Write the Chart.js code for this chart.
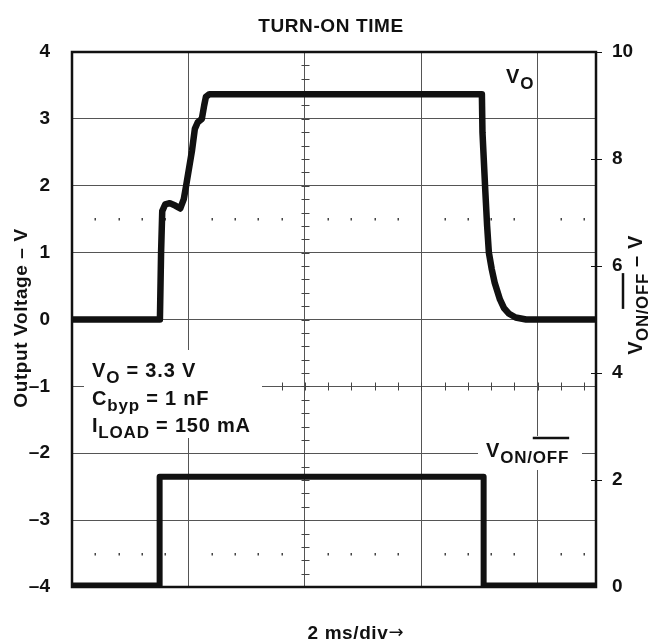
<!DOCTYPE html>
<html><head><meta charset="utf-8">
<script src="https://cdn.jsdelivr.net/npm/chart.js@4.4.0/dist/chart.umd.min.js"></script>
<style>html,body{margin:0;padding:0;background:#fff;overflow:hidden}</style>
</head><body>
<canvas id="c" width="657" height="641"></canvas>
<script>
// ---------- data ----------
const chartTitle = 'TURN-ON TIME';
const leftAxisTitle = 'Output Voltage – V';
const xAxisText = '2 ms/div';
// time in ms (2 ms/div, 4.5 divisions shown)
const voTime  = [0, 1.51, 1.53, 1.55, 1.60, 1.68, 1.78, 1.86, 1.92, 1.96, 2.06, 2.11, 2.16, 2.23, 2.27, 2.30, 2.36, 3.5, 4.5, 5.5, 6.5, 7.04, 7.05, 7.10, 7.13, 7.16, 7.21, 7.26, 7.35, 7.42, 7.50, 7.62, 7.80, 9.0];
const voValue = [0.0, 0.0, 1.0, 1.62, 1.72, 1.74, 1.70, 1.66, 1.80, 2.0, 2.52, 2.85, 2.95, 3.0, 3.2, 3.33, 3.37, 3.37, 3.37, 3.37, 3.37, 3.37, 2.8, 1.9, 1.4, 1.0, 0.75, 0.55, 0.3, 0.17, 0.09, 0.03, 0.0, 0.0];
const enTime  = [0, 1.505, 1.505, 7.07, 7.07, 9.0];
const enValue = [0.03, 0.03, 2.06, 2.06, 0.03, 0.03];
const leftTickStep = 1;
const rightTickStep = 2;
const dottedRows = [1.5, -3.5];

const FONT = '"Liberation Sans", Arial, Helvetica, sans-serif';
const INK = '#111';
const MAIN = 20, SUB = 17;

function drawRich(ctx, parts, x, y, align) {
  let total = 0;
  for (const p of parts) { ctx.font = 'bold ' + p.size + 'px ' + FONT; p.w = ctx.measureText(p.t).width; total += p.w; }
  let cx = align === 'center' ? x - total / 2 : x;
  ctx.textAlign = 'left'; ctx.textBaseline = 'alphabetic';
  for (const p of parts) {
    ctx.font = 'bold ' + p.size + 'px ' + FONT;
    ctx.fillText(p.t, cx, y + (p.dy || 0));
    if (p.over) {
      ctx.save(); ctx.lineWidth = 2.5; ctx.strokeStyle = INK;
      ctx.beginPath(); ctx.moveTo(cx, y + p.over); ctx.lineTo(cx + p.w, y + p.over); ctx.stroke(); ctx.restore();
    }
    cx += p.w;
  }
}

const deco = {
  id: 'deco',
  beforeDatasetsDraw(chart) {
    const { ctx, chartArea: a, scales: { x, y } } = chart;
    ctx.save();
    ctx.fillStyle = '#444';
    for (const v of dottedRows) {
      const py = Math.round(y.getPixelForValue(v));
      for (let k = 1; k < 23; k++) {
        if (k % 5 === 0) continue;
        const px = Math.round(x.getPixelForValue(k * 0.4));
        ctx.fillRect(px - 0.5, py - 1, 1.5, 2.5);
      }
    }
    ctx.strokeStyle = '#444'; ctx.lineWidth = 1;
    const cxp = Math.round(x.getPixelForValue(4)) + 0.5;
    ctx.beginPath();
    for (let k = -20; k <= 20; k++) {
      const py = Math.round(y.getPixelForValue(k * 0.2)) + 0.5;
      ctx.moveTo(cxp - 4, py); ctx.lineTo(cxp + 4, py);
    }
    const cyp = Math.round(y.getPixelForValue(-1)) + 0.5;
    for (let k = 1; k < 23; k++) {
      const px = Math.round(x.getPixelForValue(k * 0.4)) + 0.5;
      ctx.moveTo(px, cyp - 4); ctx.lineTo(px, cyp + 4);
    }
    ctx.stroke();
    ctx.fillStyle = '#fff';
    ctx.fillRect(84, 350, 178, 88);
    ctx.fillRect(478, 436, 104, 34);
    ctx.fillStyle = INK;
    ctx.letterSpacing = '0.8px';
    drawRich(ctx, [{t:'V', size:MAIN}, {t:'O', size:SUB, dy:6}], 506, 83);
    drawRich(ctx, [{t:'V', size:MAIN}, {t:'O', size:SUB, dy:6}, {t:' = 3.3 V', size:MAIN}], 92, 377);
    drawRich(ctx, [{t:'C', size:MAIN}, {t:'byp', size:SUB, dy:6}, {t:' = 1 nF', size:MAIN}], 92, 405);
    drawRich(ctx, [{t:'I', size:MAIN}, {t:'LOAD', size:SUB, dy:6}, {t:' = 150 mA', size:MAIN}], 92, 432);
    drawRich(ctx, [{t:'V', size:MAIN}, {t:'ON/', size:SUB, dy:6}, {t:'OFF', size:SUB, dy:6, over:-19}], 486, 457);
    ctx.restore();
  },
  afterDatasetsDraw(chart) {
    const { ctx, chartArea: a, scales: { y2 } } = chart;
    ctx.save();
    ctx.strokeStyle = INK; ctx.lineWidth = 2.5;
    ctx.strokeRect(a.left, a.top, a.right - a.left, a.bottom - a.top);
    ctx.lineWidth = 1;
    ctx.beginPath();
    for (let v = 2; v <= 10; v += 2) {
      const py = Math.round(y2.getPixelForValue(v)) + 0.5;
      ctx.moveTo(a.right - 5, py); ctx.lineTo(a.right + 6, py);
    }
    ctx.stroke();
    ctx.restore();
  },
  afterDraw(chart) {
    const { ctx } = chart;
    ctx.save();
    ctx.fillStyle = INK;
    ctx.letterSpacing = '0.6px';
    ctx.textAlign = 'center'; ctx.textBaseline = 'alphabetic';
    ctx.font = 'bold 19px ' + FONT;
    ctx.fillText(chartTitle, 331, 32);
    ctx.textAlign = 'left';
    ctx.font = 'bold 19px ' + FONT;
    const w = ctx.measureText(xAxisText).width;
    const xs = 358 - (w + 20) / 2;
    ctx.fillText(xAxisText, xs, 639);
    ctx.font = '18px "DejaVu Sans", sans-serif';
    ctx.fillText('→', xs + w, 638);
    ctx.save();
    ctx.translate(27, 318); ctx.rotate(-Math.PI / 2);
    ctx.textAlign = 'center'; ctx.font = 'bold 19px ' + FONT;
    ctx.fillText(leftAxisTitle, 0, 0);
    ctx.restore();
    ctx.save();
    ctx.translate(642, 295); ctx.rotate(-Math.PI / 2);
    drawRich(ctx, [{t:'V', size:MAIN}, {t:'ON/', size:SUB, dy:6}, {t:'OFF', size:SUB, dy:6, over:-19}, {t:' – V', size:MAIN}], 0, 0, 'center');
    ctx.restore();
    ctx.restore();
  }
};

const tickFont = { family: FONT, size: 19, weight: 'bold' };
new Chart(document.getElementById('c'), {
  type: 'line',
  data: {
    datasets: [
      { label: 'VO', data: voTime.map((t, i) => ({ x: t, y: voValue[i] })), yAxisID: 'y',
        borderColor: INK, borderWidth: 6.5, pointRadius: 0, tension: 0, borderJoinStyle: 'round', borderCapStyle: 'round' },
      { label: 'VON/OFF', data: enTime.map((t, i) => ({ x: t, y: enValue[i] })), yAxisID: 'y2',
        borderColor: INK, borderWidth: 6, pointRadius: 0, tension: 0, borderJoinStyle: 'round', borderCapStyle: 'round' }
    ]
  },
  options: {
    responsive: false, animation: false, devicePixelRatio: 1,
    layout: { padding: { top: 52, left: 0, right: 0, bottom: 0 } },
    plugins: { legend: { display: false }, title: { display: false }, tooltip: { enabled: false } },
    scales: {
      x: { type: 'linear', min: 0, max: 9, ticks: { display: false, stepSize: 2 },
           grid: { color: '#555', lineWidth: 1, drawTicks: false }, border: { display: false },
           afterFit(s) { s.height = 54; } },
      y: { position: 'left', min: -4, max: 4,
           ticks: { stepSize: leftTickStep, padding: 22, color: INK, font: tickFont, callback: v => String(v).replace('-', '–') },
           grid: { color: '#555', lineWidth: 1, drawTicks: false }, border: { display: false },
           afterFit(s) { s.width = 72; } },
      y2: { position: 'right', min: 0, max: 10,
           ticks: { stepSize: rightTickStep, padding: 16, color: INK, font: tickFont },
           grid: { drawOnChartArea: false, drawTicks: false }, border: { display: false },
           afterFit(s) { s.width = 61; } }
    }
  },
  plugins: [deco]
});
</script>
</body></html>
